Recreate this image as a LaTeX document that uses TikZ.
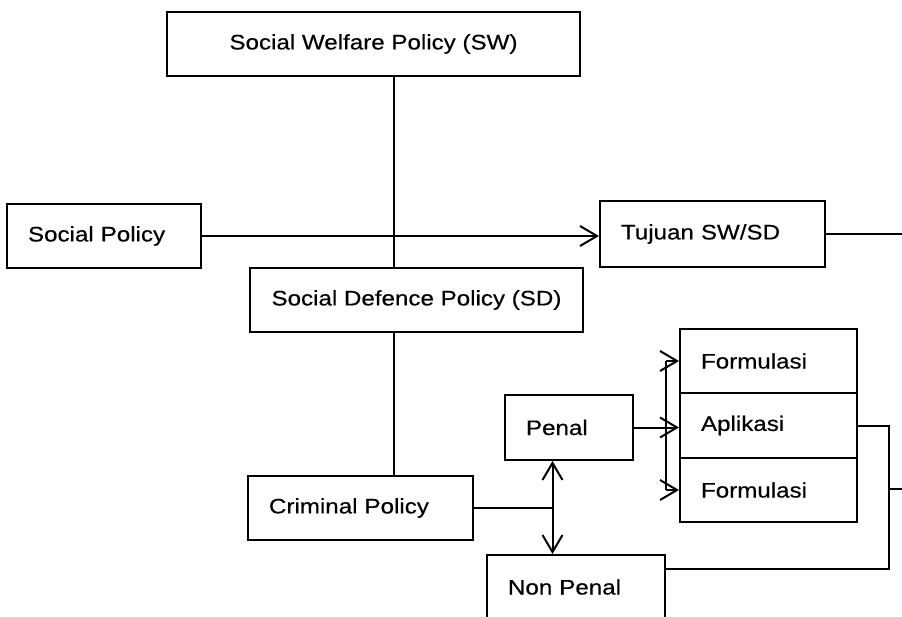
\documentclass[tikz,border=0pt]{standalone}
\usepackage{fontspec}
\setmainfont{Liberation Sans}[FakeStretch=1.15,FakeBold=0.4]
\usetikzlibrary{arrows.meta}
\begin{document}
\begin{tikzpicture}[x=1pt,y=-1pt,
  >={Straight Barb[length=17pt,width=20pt,line width=2pt]},
  conn/.style={draw, line width=2pt},
  box/.style={draw, line width=2pt, inner sep=0pt, minimum height=64pt, font=\fontsize{21}{25}\selectfont},
  cbox/.style={box, minimum width=#1, align=center},
  lbox/.style={box, inner xsep=21pt, text width=#1, align=left}]
\useasboundingbox (0,0) rectangle (902,617);
\fill[white] (0,0) rectangle (902,617);
% nodes
\node[cbox=413pt] (sw) at (373.5,44) {Social Welfare Policy (SW)};
\node[lbox=152pt] (sp) at (104,236) {Social Policy};
\node[lbox=183pt, minimum height=66pt] (tj) at (712.5,234) {Tujuan SW/SD};
\node[cbox=333pt] (sd) at (416.5,300) {Social Defence Policy (SD)};
\node[lbox=183pt] (cp) at (360.5,508) {Criminal Policy};
\node[lbox=86pt, minimum height=65pt] (pn) at (569,427.5) {Penal};
\node[lbox=135pt] (f1) at (768.5,361) {Formulasi};
\node[lbox=135pt, minimum height=65pt] (ap) at (768.5,425.5) {Aplikasi};
\node[lbox=135pt] (f2) at (768.5,490) {Formulasi};
\node[lbox=136pt] (np) at (576,587) {Non Penal};
% helper coordinates
\coordinate (spine) at (393.5,0);
\coordinate (vx) at (552.5,0);
\coordinate (bx) at (665.5,0);
\coordinate (rx) at (888.5,568.5);
\coordinate (out1) at (905,0);
\coordinate (out2) at (905,488.5);
% connectors
\path[conn] (sw.south -| spine) -- (sd.north -| spine);
\path[conn] (sd.south -| spine) -- (cp.north -| spine);
\path[conn,->] (sp.east) -- (sp.east -| tj.west);
\path[conn] (tj.east) -- (tj.east -| out1);
\path[conn] (cp.east) -- (cp.east -| vx);
\path[conn,<->] (pn.south -| vx) -- (np.north -| vx);
\path[conn,->] (pn.east) -- (pn.east -| ap.west);
\path[conn] (f1.west -| bx) -- (f2.west -| bx);
\path[conn,->] (f1.west -| bx) -- (f1.west);
\path[conn,->] (f2.west -| bx) -- (f2.west);
\path[conn] (ap.east) -- (ap.east -| rx) -- (rx) -- (rx -| np.east);
\path[conn] (out2 -| rx) -- (out2);
\end{tikzpicture}
\end{document}
